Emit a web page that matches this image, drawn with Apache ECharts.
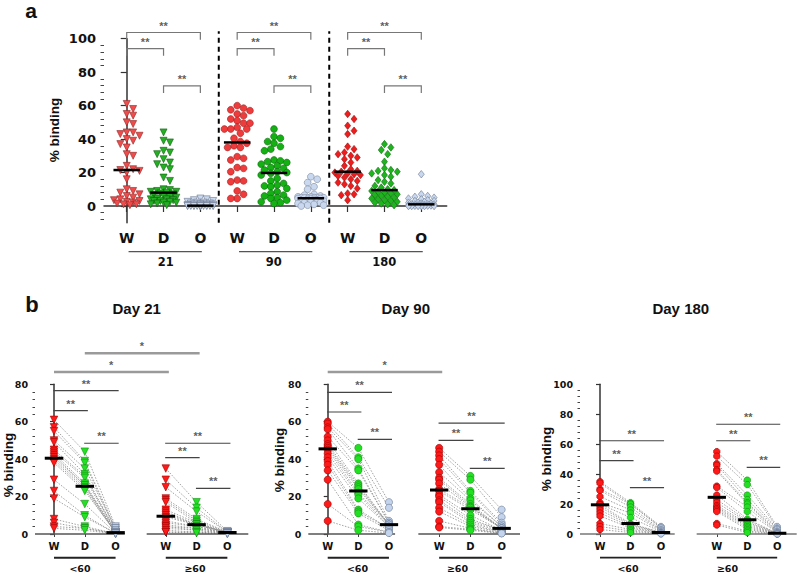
<!DOCTYPE html>
<html>
<head>
<meta charset="utf-8">
<script src="https://cdn.jsdelivr.net/npm/echarts@6/dist/echarts.min.js"></script>
<style>html,body{margin:0;padding:0;background:#fff}#chart{width:798px;height:573px}</style>
</head>
<body>
<div id="chart"></div>
<script>
// ---------- data (% binding) ----------
const groupNames = ['W', 'D', 'O'];
const dayNames = ['21', '90', '180'];
const ageNames = ['<60', '≥60'];

// panel a: all subjects per day
const aW21 = [61, 58, 55, 54, 50, 49, 44, 44, 43, 42, 40, 39, 37, 35, 31, 30, 24, 22, 21.5, 21, 20, 16, 10, 9, 8, 7, 6, 5, 4, 3.5, 3, 2.5, 2, 1.5, 1, 1, 0.5];
const aD21 = [44, 39, 38, 33, 32, 31, 28, 26, 25, 23, 22, 17, 15, 10, 9.5, 9, 8.5, 8.5, 8, 7.5, 7, 6.5, 6, 5.5, 5, 4.5, 4, 4, 3.5, 3, 3, 2.5, 2, 2, 1.5, 1, 0.5];
const aO21 = [4.5, 4, 3.5, 3, 2.5, 2, 2, 1.5, 1.5, 1.2, 1, 1, 0.8, 0.6, 0.5, 0.4, 0.3, 0.3, 0.2, 0.2, 0.1, 0.1, 0.1, 0, 0, 0, 0, 0, 0, 0, 0, 0, 0, 0, 0, 0, 0];
const aW90 = [60, 58.5, 57.5, 57, 55, 54, 52, 51, 49.5, 49.5, 47, 46, 46, 46, 43.5, 40.5, 38.5, 37.5, 36, 35, 35, 29.5, 28.5, 27.5, 23, 22.5, 20.5, 15.5, 15, 14.5, 9, 7, 4.5, 4.5];
const aD90 = [46, 41.5, 40.5, 38.5, 37.5, 35.5, 34, 33, 27.5, 27, 26.5, 26, 25, 24, 23, 22.5, 21.5, 20.5, 20, 19.5, 18.5, 16.5, 15, 13.5, 12.5, 12, 11.5, 10.5, 8.5, 7.5, 6.5, 6, 5, 4.5, 3.5, 2.5, 2, 1.5];
const aO90 = [17.5, 16, 14, 11.5, 10, 7, 6.5, 6, 5.5, 5.5, 5, 5, 5, 5, 5, 4.8, 4.5, 4.5, 4.5, 4, 4, 3.5, 3, 3, 2.5, 2, 2, 1.5, 1, 0.5, 0.5, 0];
const aW180 = [55, 52, 48, 45, 43, 35.5, 34, 32, 31, 30, 29, 28, 26, 24, 22, 21, 20.5, 20, 19.5, 19, 18.5, 18, 17, 16, 15, 14, 13, 12, 10.5, 7.5, 7, 6.5, 3.5];
const aD180 = [37, 35, 33.5, 31, 26.5, 22.5, 21.5, 21, 20.5, 19.5, 18.5, 17.5, 15.5, 14.5, 13.5, 12, 11, 10, 9.5, 9, 8.5, 8, 7.5, 7, 6.5, 6, 5.5, 5, 4.5, 4, 3.5, 3, 2.5, 2, 1.5, 1, 0.5];
const aO180 = [19, 7, 6, 5.5, 5, 4.5, 4, 3.5, 3, 3, 2.5, 2, 2, 1.5, 1.5, 1, 1, 1, 1, 0.8, 0.5, 0.5, 0.5, 0.3, 0.2, 0.1, 0, 0, 0, 0, 0, 0];

// panel b: paired subjects, split by age (<60 / ≥60)
const b21LowW = [61, 57, 55, 50, 49, 45, 44, 43, 42, 41, 40, 39, 38, 29, 23, 19, 8, 6, 4, 3];
const b21LowD = [44, 39, 38, 35, 32, 31, 30, 27, 26, 26, 25, 24, 23, 16, 10, 9, 4, 3, 3, 2];
const b21LowO = [4, 3, 2, 3, 1, 2, 1, 1, 0.5, 1, 0.5, 0.5, 1, 0.5, 0.3, 0.5, 0.2, 0.3, 0.2, 0.1];
const b21HighW = [35, 29, 25, 19, 18, 17, 13, 12, 11, 10, 9, 7, 6, 5, 4, 4, 3, 2, 1, 1];
const b21HighD = [17, 14, 12, 8, 7, 6, 6, 5, 5, 5, 5, 4, 4, 3, 3, 2, 2, 1, 1, 0.5];
const b21HighO = [1.5, 1, 1, 1, 1, 0.8, 0.8, 0.8, 0.8, 0.8, 0.8, 0.5, 0.5, 0.5, 0.5, 0.3, 0.3, 0.2, 0.2, 0.1];

const b90LowW = [60, 59, 57, 56, 52, 50, 48, 47, 46, 45, 43, 41, 39, 37, 34, 29, 16, 7];
const b90LowD = [46, 41, 40, 35, 34, 27, 26, 25, 24, 22, 21, 19, 13, 12, 11, 5, 4, 2];
const b90LowO = [17, 14, 7, 6, 6, 5, 5, 5, 5, 5, 4, 4, 3, 3, 2, 1, 1, 0.5];
const b90HighW = [46, 44, 42, 40, 37, 33, 30, 29, 27, 24, 23, 21, 20, 18, 17, 14, 12, 7, 4, 3.5];
const b90HighD = [31, 29, 23, 22, 19, 18, 16, 15, 14.5, 14, 13, 10, 8, 7, 6, 5, 4, 3, 2.5, 2];
const b90HighO = [13, 9, 6, 5, 4, 4, 3, 3, 3, 3, 3, 2, 2, 2, 1.5, 1, 1, 0.5, 0.5, 0.3];

const b180LowW = [35, 34, 30, 29, 25, 21, 20, 19.5, 18, 16, 14, 12, 7, 5, 3];
const b180LowD = [21, 20, 20, 18, 16, 14, 11, 7, 6.5, 6, 5, 4, 3, 2, 1];
const b180LowO = [5, 4.5, 4, 3, 2.5, 2, 1.5, 1, 1, 0.8, 0.5, 0.5, 0.3, 0.2, 0.1];
const b180HighW = [55, 52, 47, 46, 43, 42, 32, 31, 26, 23, 21, 19, 18, 17, 16, 15, 7, 6];
const b180HighD = [36, 33, 26, 23, 21, 20, 18, 15, 10, 9, 8, 7, 6, 5, 4, 3, 2, 1];
const b180HighO = [5, 4, 3.5, 3, 2, 1.5, 1, 1, 0.5, 0.5, 0.3, 0.3, 0.2, 0.2, 0.1, 0.1, 0.1, 0];

// significance: [from, to, y, label]
const aSig = [[0, 2, 103.7, '**'], [0, 1, 94.1, '**'], [1, 2, 71.8, '**']];
const bSig = [
  [[1, 4, 96.6, '*'], [0, 3, 86.6, '*'], [0, 2, 76.6, '**'], [0, 1, 65.9, '**'], [1, 2, 48.5, '**'], [3, 5, 48.5, '**'], [3, 4, 40.8, '**'], [4, 5, 24.4, '**']],
  [[0, 3, 86.6, '*'], [0, 2, 75.7, '**'], [0, 1, 65.2, '**'], [1, 2, 50.6, '**'], [3, 5, 59.3, '**'], [3, 4, 50, '**'], [4, 5, 35.1, '**']],
  [[0, 2, 62.3, '**'], [0, 1, 49, '**'], [1, 2, 31, '**'], [3, 5, 73.3, '**'], [3, 4, 62.3, '**'], [4, 5, 44.5, '**']]
];

// ---------- layout ----------
const FW = '"DejaVu Sans", sans-serif';
const FN = '"Liberation Sans", Arial, sans-serif';
const aGroups = [[aW21, aD21, aO21], [aW90, aD90, aO90], [aW180, aD180, aO180]];
const bGroups = [
  [[b21LowW, b21LowD, b21LowO], [b21HighW, b21HighD, b21HighO]],
  [[b90LowW, b90LowD, b90LowO], [b90HighW, b90HighD, b90HighO]],
  [[b180LowW, b180LowD, b180LowO], [b180HighW, b180HighD, b180HighO]]
];
const bPos = [[0, 1, 2, 3.63, 4.63, 5.63], [0, 1, 2, 3.64, 4.66, 5.68], [0, 1, 2, 3.83, 4.83, 5.81]];
const bRange = [[-0.617, 6.31], [-0.634, 6.28], [-0.656, 6.45]];
const bBreak = [[[-0.617, 2.3], [3.01, 6.31]], [[-0.634, 2.2], [2.96, 6.28]], [[-0.656, 2.45], [3.17, 6.45]]];
const bMax = [80, 80, 100];
const bUnder = [-12.7, -12.7, -15.8];

const grids = [
  {left: 104, top: 38.7, width: 342.7, height: 184.05},
  {left: 35, top: 384.3, width: 213.3, height: 149.7},
  {left: 308.3, top: 384.3, width: 211.7, height: 149.7},
  {left: 580, top: 384.3, width: 216.7, height: 149.7}
];

const aSym = [{symbol: 'triangle', rot: 180, size: 7}, {symbol: 'circle', rot: 0, size: 6.8}, {symbol: 'diamond', rot: 0, size: [6, 7.5]}];
const bSym = [{symbol: 'triangle', rot: 180, size: 7.5}, {symbol: 'circle', rot: 0, size: 7.2}, {symbol: 'path://M3,0H7L10,3V7L7,10H3L0,7V3Z', rot: 0, size: 6.3}];
const aCol = [
  [['#f24b4b', '#8a2a2a'], ['#23b023', '#0d5e0d'], ['#c9d8ee', '#6b7890']],
  [['#ef3b3b', '#a02020'], ['#14b014', '#0a6a0a'], ['#c9d8ee', '#7d8aa0']],
  [['#ee1c1c', '#991111'], ['#1eb41e', '#0d6a0d'], ['#c9d8ee', '#6b7890']]
];
const bCol = [['#ff1a1a', '#a00000'], ['#22e022', '#139013'], ['#c3d4ec', '#6c7b93']];

const median = a => {
  const s = [...a].sort((x, y) => x - y), n = s.length;
  return n % 2 ? s[(n - 1) / 2] : (s[n / 2 - 1] + s[n / 2]) / 2;
};

// deterministic beeswarm offsets (pixel-based) for panel a
function swarm(vals, xc, pxX, pxY) {
  const d = 6, step = 3.2, ks = [0, 1, -1, 2, -2, 3, -3, 4, -4];
  const placed = [];
  return vals.map(v => {
    let best = 0, bestD = -1;
    for (const k of ks) {
      const off = k * step;
      let md = Infinity;
      for (const p of placed) md = Math.min(md, Math.hypot(off - p[0], (v - p[1]) * pxY));
      if (md >= d) { best = off; break; }
      if (md > bestD) { bestD = md; best = off; }
    }
    placed.push([best, v]);
    return [xc + best / pxX, v];
  });
}

const seg = (gi, coords, style, z) => ({
  type: 'lines', coordinateSystem: 'cartesian2d', xAxisIndex: gi, yAxisIndex: gi,
  polyline: true, clip: false, silent: true, z: z || 3,
  lineStyle: Object.assign({opacity: 1}, style), data: coords.map(c => ({coords: c}))
});
const stars = (gi, pts, dist) => ({
  type: 'scatter', xAxisIndex: gi, yAxisIndex: gi, clip: false, silent: true, z: 5,
  symbolSize: 1, itemStyle: {color: 'rgba(0,0,0,0)'},
  label: {show: true, position: 'top', distance: dist, color: '#333', fontSize: 11, fontFamily: FN, fontWeight: 'bold', formatter: p => p.data.t},
  data: pts.map(p => ({value: [p[0], p[1]], t: p[2]}))
});

const series = [];

// ----- panel a -----
const pxXa = grids[0].width / 9.307, pxYa = grids[0].height / 110;
aGroups.forEach((grp, d) => {
  grp.forEach((vals, g) => {
    const i = d * 3 + g;
    series.push({
      type: 'scatter', xAxisIndex: 0, yAxisIndex: 0, z: 4, silent: true,
      symbol: aSym[d].symbol, symbolRotate: aSym[d].rot, symbolSize: aSym[d].size,
      itemStyle: {color: aCol[d][g][0], borderColor: aCol[d][g][1], borderWidth: 0.6, opacity: 1},
      data: swarm(vals, i, pxXa, pxYa)
    });
    const m = median(vals);
    series.push(seg(0, [[[i - 0.36, m], [i + 0.36, m]]], {color: '#000', width: 2.5}, 6));
  });
  const o = d * 3;
  series.push(seg(0, aSig.map(s => [[o + s[0], s[2] - 4.3], [o + s[0], s[2]], [o + s[1], s[2]], [o + s[1], s[2] - 4.3]]), {color: '#777', width: 1.2}));
  series.push(stars(0, aSig.map(s => [o + (s[0] + s[1]) / 2, s[2], s[3]]), 1));
  series.push(seg(0, [[[o + 0.05, -27.3], [o + 2.04, -27.3]]], {color: '#555', width: 1.3}));
});
series.push(seg(0, [[[2.5, -10], [2.5, 104.5]], [[5.5, -10], [5.5, 104.5]]], {color: '#000', width: 2, type: [5, 4]}));

// ----- panel b -----
bGroups.forEach((ages, d) => {
  const gi = d + 1, pos = bPos[d];
  ages.forEach((grp, k) => {
    const xs = pos.slice(k * 3, k * 3 + 3);
    series.push(seg(gi, grp[0].map((_, j) => [[xs[0], grp[0][j]], [xs[1], grp[1][j]], [xs[2], grp[2][j]]]),
      {color: '#8a8a8a', width: 0.8, type: [1.5, 1.5]}, 2));
    grp.forEach((vals, g) => {
      series.push({
        type: 'scatter', xAxisIndex: gi, yAxisIndex: gi, z: 4, silent: true,
        symbol: bSym[d].symbol, symbolRotate: bSym[d].rot, symbolSize: bSym[d].size,
        itemStyle: {color: bCol[g][0], borderColor: bCol[g][1], borderWidth: 0.6, opacity: 1},
        data: vals.map(v => [xs[g], v])
      });
      const m = median(vals);
      series.push(seg(gi, [[[xs[g] - 0.3, m], [xs[g] + 0.3, m]]], {color: '#000', width: 3}, 6));
    });
    series.push(seg(gi, [[[xs[0], bUnder[d]], [xs[2], bUnder[d]]]], {color: '#222', width: 1.8}));
  });
  const sig = bSig[d];
  series.push(seg(gi, sig.filter(s => s[3] === '*').map(s => [[pos[s[0]], s[2]], [pos[s[1]] + 0.1, s[2]]]), {color: '#9a9a9a', width: 2.5}));
  series.push(seg(gi, sig.filter(s => s[3] !== '*').map(s => [[pos[s[0]] - 0.02, s[2]], [pos[s[1]] + 0.1, s[2]]]), {color: '#444', width: 1.2}));
  series.push(stars(gi, sig.map(s => [(pos[s[0]] + pos[s[1]]) / 2 + 0.04, s[2], s[3]]), 1));
  series.push(seg(gi, bBreak[d].map(b => [[b[0], 0], [b[1], 0]]), {color: d === 2 ? '#777' : '#555', width: 1.6}));
});

// ----- axes -----
const minorTicks = (lo, hi) => {
  const r = [];
  for (let v = lo; v <= hi; v += 4) if (v % 20 !== 0) r.push(v);
  return r;
};
const xAxis = [{
  gridIndex: 0, type: 'value', position: 'bottom', min: -0.617, max: 8.69, splitLine: {show: false},
  axisLine: {lineStyle: {color: '#333', width: 1.5}},
  axisTick: {customValues: [0, 1, 2, 3, 4, 5, 6, 7, 8], length: 6, lineStyle: {color: '#333', width: 1.2}},
  axisLabel: {customValues: [0, 1, 2, 3, 4, 5, 6, 7, 8], formatter: v => groupNames[Math.round(v) % 3], margin: 8, color: '#111', fontFamily: FW, fontWeight: 'bold', fontSize: 14}
}];
bPos.forEach((pos, d) => xAxis.push({
  gridIndex: d + 1, type: 'value', position: 'bottom', min: bRange[d][0], max: bRange[d][1], splitLine: {show: false},
  axisLine: {show: false},
  axisTick: {customValues: pos, length: 3, lineStyle: {color: '#444'}},
  axisLabel: {customValues: pos, formatter: v => groupNames[pos.findIndex(p => Math.abs(p - v) < 0.01) % 3], margin: 7, color: '#111', fontFamily: FW, fontWeight: 'bold', fontSize: 10}
}));

const yMajor = (gi, min, max, fs, margin, len) => ({
  gridIndex: gi, type: 'value', position: 'left', min, max, splitLine: {show: false},
  axisLine: {show: true, lineStyle: {color: '#333', width: 1.5}},
  axisTick: {show: true, customValues: [0, 20, 40, 60, 80, 100].filter(v => v <= max), length: len, lineStyle: {color: '#333', width: 1.2}},
  axisLabel: {customValues: [0, 20, 40, 60, 80, 100].filter(v => v <= max), margin, color: '#111', fontFamily: FW, fontWeight: 'bold', fontSize: fs}
});
const yMinor = (gi, min, max, len) => ({
  gridIndex: gi, type: 'value', position: 'left', min, max, splitLine: {show: false}, axisLine: {show: false},
  axisLabel: {show: false},
  axisTick: {show: true, customValues: minorTicks(min < 0 ? -8 : 4, max), length: len, lineStyle: {color: '#444', width: 1}}
});
const yAxis = [yMajor(0, -10, 100, 13, 8, 6)];
bMax.forEach((mx, d) => yAxis.push(yMajor(d + 1, 0, mx, 9.5, 7, 4)));
yAxis.push(yMinor(0, -10, 100, 3.5));
bMax.forEach((mx, d) => yAxis.push(yMinor(d + 1, 0, mx, 2.5)));

// ----- text annotations -----
const txt = (x, y, s, size, family, rot) => ({
  type: 'text', x, y, rotation: rot || 0, silent: true, z: 10,
  style: {text: s, fontSize: size, fontFamily: family, fontWeight: 'bold', fill: '#111',
    align: 'center', verticalAlign: 'middle', textAlign: 'center', textVerticalAlign: 'middle'}
});
const graphic = [
  txt(31, 10, 'a', 21, FN), txt(32, 304.7, 'b', 22, FN),
  txt(136.7, 308.5, 'Day ' + dayNames[0], 15, FN), txt(405.8, 308.5, 'Day ' + dayNames[1], 15, FN), txt(680.8, 308.5, 'Day ' + dayNames[2], 15, FN),
  txt(54, 130, '% binding', 13.5, FN, Math.PI / 2), txt(8, 465, '% binding', 13.5, FN, Math.PI / 2),
  txt(279, 460, '% binding', 13.5, FN, Math.PI / 2), txt(546, 459, '% binding', 13.5, FN, Math.PI / 2),
  txt(165.7, 262.3, dayNames[0], 11.5, FW), txt(273.7, 262.3, dayNames[1], 11.5, FW), txt(384.3, 262.3, dayNames[2], 11.5, FW),
  txt(80, 568.3, ageNames[0], 9.5, FW), txt(195, 568.3, ageNames[1], 9.5, FW),
  txt(357.5, 568.3, ageNames[0], 9.5, FW), txt(457.5, 568.3, ageNames[1], 9.5, FW),
  txt(628, 568.3, ageNames[0], 9.5, FW), txt(727.5, 568.3, ageNames[1], 9.5, FW)
];

const chart = echarts.init(document.getElementById('chart'), null, {renderer: 'svg'});
chart.setOption({
  animation: false,
  backgroundColor: '#fff',
  grid: grids,
  xAxis, yAxis, series, graphic
});
</script>
</body>
</html>
